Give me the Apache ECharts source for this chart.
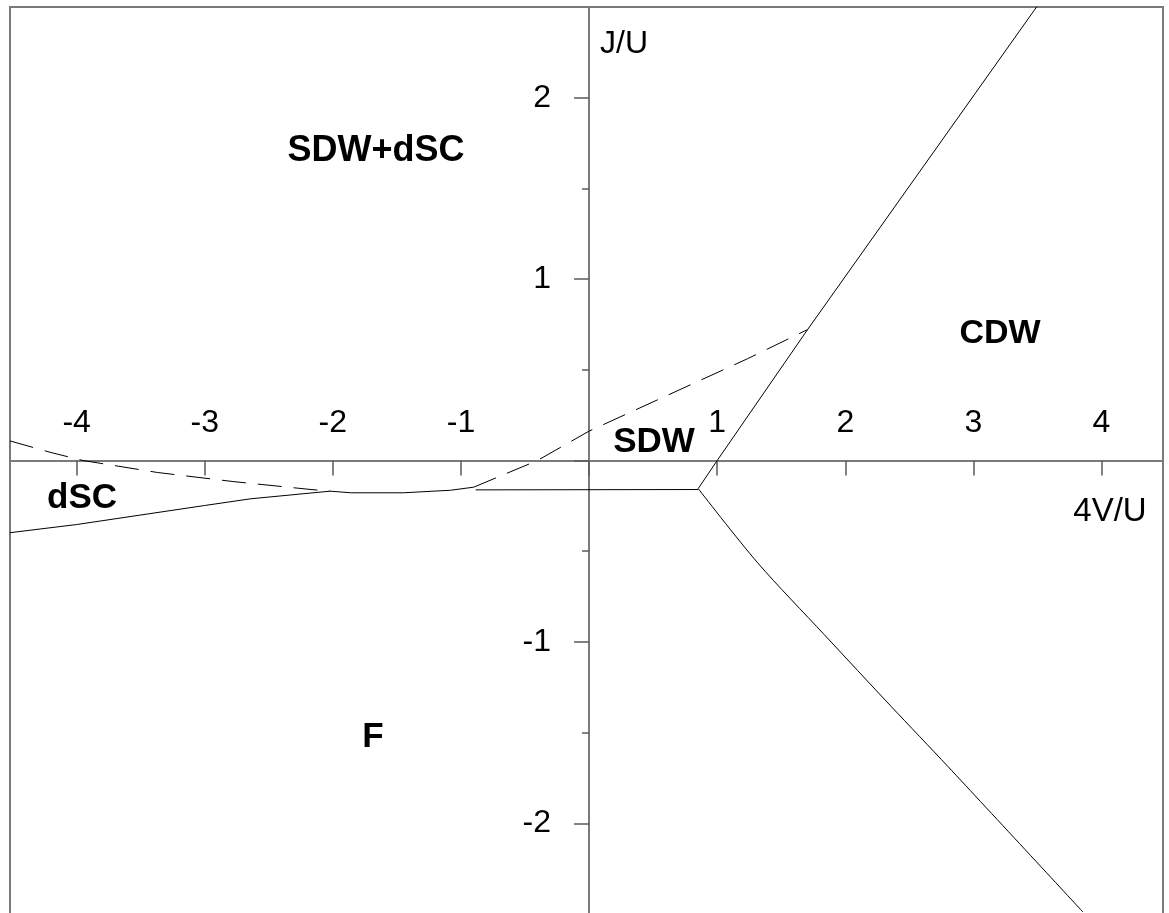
<!DOCTYPE html>
<html>
<head>
<meta charset="utf-8">
<script src="https://cdn.jsdelivr.net/npm/echarts@6/dist/echarts.min.js"></script>
<style>
  html, body { margin: 0; padding: 0; background: #fff; }
  #main { width: 1169px; height: 913px; }
</style>
</head>
<body>
<div id="main"></div>
<script>
/*
* phase diagram J/U vs 4V/U
*/
var xTicks = [-4, -3, -2, -1, 0, 1, 2, 3, 4];
var xLabels = [-4, -3, -2, -1, 1, 2, 3, 4];
var yMajor = [-2, -1, 0, 1, 2];
var yLabels = [-2, -1, 1, 2];
var yMinor = [-1.5, -0.5, 0.5, 1.5];

// phase boundaries [4V/U, J/U]
var cdwUpper = [[0.852, -0.155], [1.0, 0.0], [1.706, 0.722], [3.497, 2.504]];
var cdwLower = [[0.852, -0.155], [1.316, -0.564], [1.836, -0.96],
                [2.357, -1.355], [2.8, -1.686], [3.855, -2.489]];
var sdwFloor = [[-0.885, -0.162], [0.852, -0.16]];
var dscLower = [[-4.52, -0.398], [-4.0, -0.353], [-3.0, -0.248], [-2.64, -0.211],
                [-2.02, -0.169], [-1.86, -0.178], [-1.45, -0.178], [-1.08, -0.164], [-0.9, -0.147]];
var dscUpper = [[-4.52, 0.108], [-4.2, 0.044], [-3.95, 0.0], [-3.37, -0.066],
                [-2.78, -0.116], [-2.17, -0.16], [-2.02, -0.169]];
var sdwUpper = [[-0.9, -0.147], [-0.403, 0.0], [0.0, 0.162], [1.237, 0.561], [1.706, 0.722]];

var X_MIN = -4.52, X_MAX = 4.48, Y_MIN = -2.5, Y_MAX = 2.5;
var FONT = "'Liberation Sans', Arial, sans-serif";
var axisGray = '#7a7a7a';
var tickGray = '#5a5a5a';

function solid(data, smooth) {
	return {
		type: 'line', data: data, showSymbol: false, symbol: 'none', silent: true,
		smooth: smooth || false,
		lineStyle: { color: '#000', width: 1 }
	};
}
function dashed(data) {
	return {
		type: 'line', data: data, showSymbol: false, symbol: 'none', silent: true,
		lineStyle: { color: '#000', width: 1, type: [24, 12] }
	};
}
function regionText(txt, x, y, weight, size) {
	return {
		type: 'text', x: x, y: y, silent: true,
		style: {
			text: txt, fill: '#000', align: 'center', verticalAlign: 'middle',
			font: weight + ' ' + size + 'px ' + FONT
		}
	};
}

var option = {
	backgroundColor: '#fff',
	animation: false,
	grid: {
		left: 10, right: 6, top: 7, bottom: -1,
		show: true, borderColor: axisGray, borderWidth: 2,
		outerBoundsMode: 'none', containLabel: false
	},
	xAxis: {
		type: 'value', min: X_MIN, max: X_MAX, position: 'bottom', offset: 0,
		splitLine: { show: false },
		axisLine: { show: true, onZero: false, lineStyle: { color: axisGray, width: 2 } },
		axisTick: { show: true, customValues: xTicks, length: 15, lineStyle: { color: tickGray, width: 1.5 } },
		axisLabel: {
			show: true, customValues: xLabels, inside: true, margin: 21,
			color: '#000', fontSize: 32, fontFamily: FONT
		}
	},
	yAxis: [{
		type: 'value', min: Y_MIN, max: Y_MAX, position: 'left', offset: 0,
		splitLine: { show: false },
		axisLine: { show: true, onZero: false, lineStyle: { color: axisGray, width: 2 } },
		axisTick: { show: true, customValues: yMajor, length: 15, lineStyle: { color: tickGray, width: 1.5 } },
		axisLabel: {
			show: true, customValues: yLabels, margin: 38,
			color: '#000', fontSize: 32, fontFamily: FONT
		}
	}, {
		type: 'value', min: Y_MIN, max: Y_MAX, position: 'left', offset: 0,
		splitLine: { show: false },
		axisLine: { show: false, onZero: false },
		axisTick: { show: true, customValues: yMinor, length: 7, lineStyle: { color: tickGray, width: 1.5 } },
		axisLabel: { show: false }
	}],
	series: [
		solid(cdwUpper),
		solid(cdwLower, 0.3),
		solid(sdwFloor),
		solid(dscLower),
		dashed(dscUpper),
		dashed(sdwUpper)
	],
	graphic: [
		regionText('J/U', 624, 44, 'normal', 32),
		regionText('4V/U', 1110, 512, 'normal', 33),
		regionText('SDW+dSC', 376, 151, 'bold', 36),
		regionText('CDW', 1000, 334, 'bold', 34),
		regionText('SDW', 654, 442, 'bold', 35),
		regionText('dSC', 82, 498, 'bold', 35),
		regionText('F', 373, 737, 'bold', 35)
	]
};

var chart = echarts.init(document.getElementById('main'), null, { renderer: 'canvas' });
chart.setOption(option);

// move both axes onto the origin (labels stay with them)
var origin = chart.convertToPixel({ gridIndex: 0 }, [0, 0]);
var corner = chart.convertToPixel({ gridIndex: 0 }, [X_MIN, Y_MIN]);
var offX = origin[1] - corner[1];
var offY = corner[0] - origin[0];
chart.setOption({
	xAxis: { offset: offX },
	yAxis: [{ offset: offY }, { offset: offY }]
});
</script>
</body>
</html>
